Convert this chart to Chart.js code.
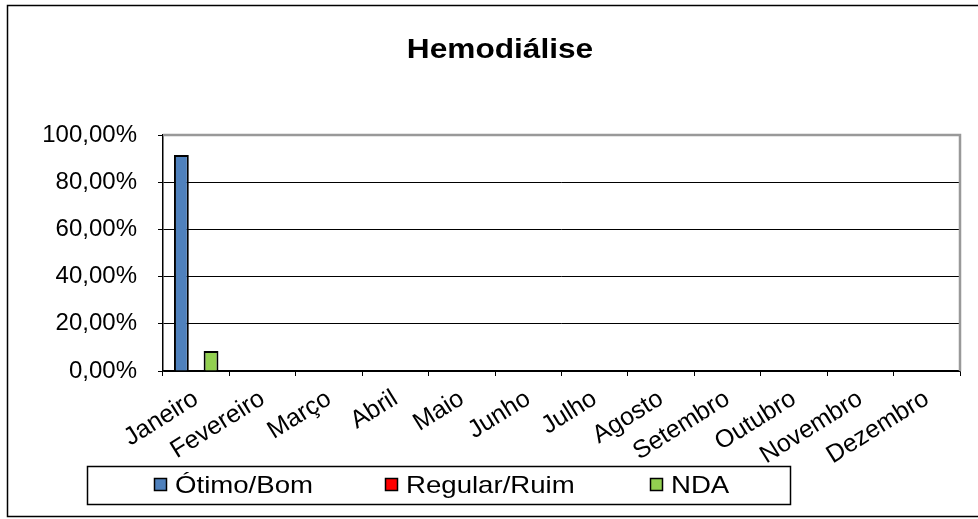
<!DOCTYPE html>
<html lang="pt-BR">
<head>
  <meta charset="UTF-8">
  <title>Hemodiálise</title>
  <script src="https://cdn.jsdelivr.net/npm/chart.js"></script>
  <style>
    html, body {
      margin: 0;
      padding: 0;
      background: #fff;
    }
    .chart-container {
      position: relative;
      width: 978px;
      height: 519px;
    }
  </style>
</head>
<body>
  <div class="chart-container">
    <canvas id="hemoChart"></canvas>
  </div>

  <script>
    const chartTitle = 'Hemodiálise';
    const months = ['Janeiro', 'Fevereiro', 'Março', 'Abril', 'Maio', 'Junho',
      'Julho', 'Agosto', 'Setembro', 'Outubro', 'Novembro', 'Dezembro'];
    const seriesNames = ['Ótimo/Bom', 'Regular/Ruim', 'NDA'];
    const otimoBom = [91.5, null, null, null, null, null, null, null, null, null, null, null];
    const regularRuim = [0, null, null, null, null, null, null, null, null, null, null, null];
    const nda = [8.5, null, null, null, null, null, null, null, null, null, null, null];
    const yTicks = [0, 20, 40, 60, 80, 100];

    const fontFamily = '"Liberation Sans", Arial, sans-serif';
    Chart.defaults.font.family = fontFamily;
    Chart.defaults.color = '#000';

    const fmtPct = v => v.toFixed(2).replace('.', ',') + '%';

    // text in the original is a bit wider than Arial, so stretch it a little
    function wideText(ctx, text, x, y, sx) {
      ctx.save();
      ctx.translate(x, y);
      ctx.scale(sx, 1);
      ctx.fillText(text, 0, 0);
      ctx.restore();
    }

    // frame, title, plot border and the boxed legend
    const decorations = {
      id: 'decorations',
      afterDraw(chart) {
        const ctx = chart.ctx;
        const area = chart.chartArea;
        ctx.save();

        ctx.strokeStyle = '#000';
        ctx.lineWidth = 1.5;
        ctx.strokeRect(7.5, 5.5, 975, 511);

        ctx.fillStyle = '#000';
        ctx.font = 'bold 28px ' + fontFamily;
        ctx.textAlign = 'center';
        ctx.textBaseline = 'middle';
        wideText(ctx, chartTitle, 500, 50, 1.13);

        ctx.strokeStyle = '#999';
        ctx.lineWidth = 2.5;
        ctx.beginPath();
        ctx.moveTo(area.left, area.top);
        ctx.lineTo(area.right, area.top);
        ctx.lineTo(area.right, area.bottom);
        ctx.stroke();

        ctx.strokeStyle = '#000';
        ctx.lineWidth = 1.5;
        ctx.strokeRect(87.5, 466.5, 703, 38);

        const itemX = [154, 385, 650];
        ctx.font = '24px ' + fontFamily;
        ctx.textAlign = 'left';
        chart.data.datasets.forEach((ds, i) => {
          ctx.fillStyle = ds.backgroundColor;
          ctx.fillRect(itemX[i], 478, 13, 13);
          ctx.lineWidth = 1.5;
          ctx.strokeStyle = '#000';
          ctx.strokeRect(itemX[i] + 0.5, 478.5, 12, 12);
          ctx.fillStyle = '#000';
          wideText(ctx, ds.label, itemX[i] + 21, 486, 1.15);
        });
        ctx.restore();
      }
    };

    const ctx = document.getElementById('hemoChart').getContext('2d');
    const hemoChart = new Chart(ctx, {
      type: 'bar',
      data: {
        labels: months,
        datasets: [
          { label: seriesNames[0], data: otimoBom, backgroundColor: '#4F81BD' },
          { label: seriesNames[1], data: regularRuim, backgroundColor: '#FF0000' },
          { label: seriesNames[2], data: nda, backgroundColor: '#92D050' }
        ].map(d => Object.assign(d, {
          borderColor: '#000',
          borderWidth: 2,
          categoryPercentage: 0.67,
          barPercentage: 1
        }))
      },
      options: {
        responsive: true,
        maintainAspectRatio: false,
        animation: false,
        layout: {
          padding: { left: 8, right: 18, top: 135, bottom: 0 }
        },
        plugins: {
          legend: { display: false },
          title: { display: false },
          tooltip: { enabled: false }
        },
        scales: {
          x: {
            grid: {
              offset: true,
              drawOnChartArea: false,
              color: '#000',
              tickLength: 5
            },
            border: { color: '#000', width: 1.5 },
            ticks: {
              autoSkip: false,
              minRotation: 32,
              maxRotation: 32,
              padding: 8,
              color: '#000',
              font: { size: 25 }
            },
            afterFit: s => { s.height = 148; }
          },
          y: {
            min: yTicks[0],
            max: yTicks[yTicks.length - 1],
            afterBuildTicks: s => { s.ticks = yTicks.map(v => ({ value: v })); },
            grid: {
              color: '#000',
              tickLength: 5
            },
            border: { color: '#000', width: 1.5 },
            ticks: {
              padding: 21,
              color: '#000',
              font: { size: 24 },
              callback: v => fmtPct(v)
            },
            afterFit: s => { s.width = 155; }
          }
        }
      },
      plugins: [decorations]
    });
  </script>
</body>
</html>
